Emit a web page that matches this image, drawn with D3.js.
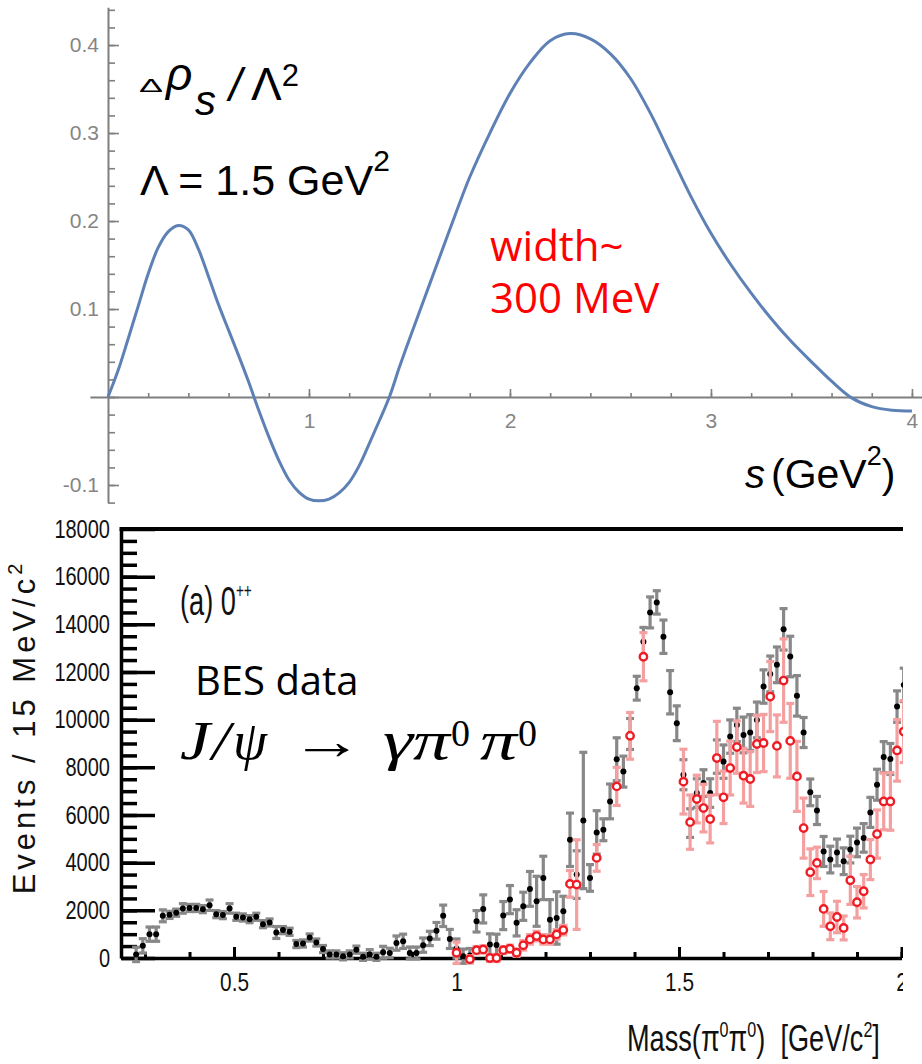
<!DOCTYPE html>
<html><head><meta charset="utf-8">
<script src="https://cdn.jsdelivr.net/npm/d3@7"></script>
<style>body{margin:0;background:#fff}svg{display:block}</style>
</head><body>
<script>
// ---------- Top panel: spectral density curve ----------
const curveS = [0,0.05,0.1,0.15,0.2,0.25,0.3,0.35,0.4,0.45,0.5,0.55,0.6,0.65,0.7,0.75,0.8,0.85,0.9,0.95,1.0,1.05,1.1,1.15,1.2,1.25,1.3,1.35,1.4,1.45,1.5,1.6,1.7,1.8,1.9,2.0,2.1,2.2,2.3,2.4,2.5,2.6,2.7,2.8,2.9,3.0,3.1,3.2,3.3,3.4,3.5,3.6,3.7,3.8,3.9,4.0];
const curveV = [0,0.03,0.066,0.103,0.14,0.17,0.188,0.195,0.19,0.168,0.137,0.105,0.076,0.047,0.017,-0.015,-0.045,-0.072,-0.094,-0.108,-0.116,-0.118,-0.116,-0.109,-0.097,-0.078,-0.053,-0.027,0,0.034,0.066,0.128,0.19,0.25,0.30,0.345,0.38,0.405,0.413,0.407,0.39,0.362,0.322,0.275,0.228,0.186,0.150,0.118,0.089,0.063,0.040,0.018,-0.001,-0.011,-0.015,-0.016];
const topXTicks = [1,2,3,4];
const topYTicks = [-0.1,0.1,0.2,0.3,0.4];

// ---------- Bottom panel: BES J/psi -> gamma pi0 pi0 ----------
const blackMass = [0.280,0.295,0.310,0.325,0.340,0.355,0.370,0.385,0.400,0.415,
0.430,0.445,0.460,0.475,0.490,0.505,0.520,0.535,0.550,0.565,
0.580,0.595,0.610,0.625,0.640,0.655,0.670,0.685,0.700,0.715,
0.730,0.745,0.760,0.775,0.790,0.805,0.820,0.835,0.850,0.865,
0.880,0.895,0.910,0.925,0.940,0.955,0.970,0.985,1.000,1.015,
1.030,1.045,1.060,1.075,1.090,1.105,1.120,1.135,1.150,1.165,
1.180,1.195,1.210,1.225,1.240,1.255,1.270,1.285,1.300,1.315,
1.330,1.345,1.360,1.375,1.390,1.405,1.420,1.435,1.450,1.465,
1.480,1.495,1.510,1.525,1.540,1.555,1.570,1.585,1.600,1.615,
1.630,1.645,1.660,1.675,1.690,1.705,1.720,1.735,1.750,1.765,
1.780,1.795,1.810,1.825,1.840,1.855,1.870,1.885,1.900,1.915,
1.930,1.945,1.960,1.975,1.990,2.005];
const blackEvents = [150,510,1000,1000,1770,1810,1900,2080,2100,2100,
2050,2215,1840,1800,2080,1730,1700,1630,1730,1420,
1490,1070,1170,1100,585,610,860,650,375,150,
150,70,150,350,50,150,50,240,210,625,
700,210,210,540,820,1140,1770,800,400,75,
100,1540,2060,565,550,1780,2450,1475,2170,2900,
2380,3360,1610,1680,1960,4960,3500,5770,3360,5270,
5380,6570,8340,7820,9400,11320,13270,14500,14920,13480,
11150,9850,7690,5660,6920,7340,6920,8450,8240,9290,
9780,9360,9460,9990,11390,11920,12300,13790,12650,11000,
9460,6950,6190,4470,4130,4430,4060,4550,4850,5040,
6110,7270,8430,8350,10550,11460];
const blackErr = [300,300,300,300,250,150,150,200,150,150,
150,220,150,150,200,150,150,150,150,150,
150,250,150,150,150,150,150,150,150,150,
150,150,150,150,150,200,150,250,200,300,
300,250,250,300,300,350,450,400,400,300,
300,450,590,450,450,590,590,550,590,730,
1050,910,840,1100,630,1120,1000,2860,560,910,
460,730,900,650,650,500,600,650,490,700,
910,730,630,600,600,560,600,700,700,700,
700,750,750,750,700,750,750,870,850,850,
630,560,590,630,560,560,560,560,600,600,
630,650,650,650,660,700];

const redMass = [1.000,1.030,1.045,1.060,1.075,1.090,1.105,1.120,1.135,1.150,
1.165,1.180,1.195,1.210,1.225,1.240,1.255,1.270,1.315,1.360,
1.390,1.420,1.510,1.525,1.540,1.555,1.570,1.585,1.600,1.615,
1.630,1.645,1.660,1.675,1.690,1.705,1.720,1.735,1.750,1.765,
1.780,1.795,1.810,1.825,1.840,1.855,1.870,1.885,1.900,1.915,
1.930,1.945,1.960,1.975,1.990,2.005];
const redEvents = [220,-50,330,360,0,0,330,390,220,530,
780,920,780,780,990,1170,3110,3080,4200,7200,
9320,12640,7400,5700,6670,6290,5830,8390,6740,7970,
8850,7650,7510,8980,9020,10970,8900,11640,9110,7620,
5450,3600,3990,2060,1330,1720,1260,3260,2340,2800,
4130,5200,6570,6570,8710,9500];
const redErr = [450,150,150,150,150,150,150,150,150,200,
200,200,200,200,200,200,560,1880,560,800,
980,1010,1360,1140,1000,1000,1000,1540,1100,1130,
1100,1150,1150,1200,1200,1470,1300,1750,1570,1470,
1260,980,660,730,560,660,500,1010,660,700,
840,1010,1190,1210,1290,1300];
const botYTicks = [0,2000,4000,6000,8000,10000,12000,14000,16000,18000];
const botXTicks = [0.5,1,1.5,2];

// =====================================================
const W = 922, H = 1064;
const svg = d3.select('body').append('svg').attr('width', W).attr('height', H);
svg.append('rect').attr('width', W).attr('height', H).attr('fill', '#fff');

const SANS = "'Liberation Sans', Arial, Helvetica, sans-serif";
const SERIF = "'Liberation Serif', 'Times New Roman', 'DejaVu Serif', serif";
const CAL = "'Open Sans', 'Noto Sans', sans-serif";

function narrow(sel, f) {
  sel.each(function () {
    const L = this.getComputedTextLength();
    d3.select(this).attr('textLength', L * f).attr('lengthAdjust', 'spacingAndGlyphs');
  });
}

// ---------------- TOP PANEL ----------------
const xT = d3.scaleLinear().domain([-0.09, 4.05]).range([89.9, 922]);
const yT = d3.scaleLinear().domain([-0.12, 0.443]).range([502.6, 7.2]);
const grey = '#7f7f7f';
const gT = svg.append('g');

function styleAxis(g, color, dw, tw) {
  g.select('.domain').attr('stroke', color).attr('stroke-width', dw);
  g.selectAll('.tick line').attr('stroke', color).attr('stroke-width', tw);
}
gT.append('g').attr('transform', `translate(0,${yT(0)})`)
  .call(d3.axisBottom(xT).tickValues(d3.range(0, 21).map(i => i * 0.2)).tickSizeInner(-4).tickSizeOuter(0).tickFormat(''))
  .call(g => styleAxis(g, grey, 2, 1.6));
gT.append('g').attr('transform', `translate(0,${yT(0)})`)
  .call(d3.axisBottom(xT).tickValues(topXTicks).tickSizeInner(-8).tickSizeOuter(0).tickPadding(16).tickFormat(d3.format('d')))
  .call(g => { g.select('.domain').remove(); styleAxis(g, grey, 2, 1.6);
    g.selectAll('text').attr('fill', '#858585').attr('font-size', 21).attr('font-family', SANS); });
gT.append('g').attr('transform', `translate(${xT(0)},0)`)
  .call(d3.axisRight(yT).tickValues(d3.range(-6, 23).map(i => i * 0.02)).tickSizeInner(7).tickSizeOuter(0).tickFormat(''))
  .call(g => styleAxis(g, grey, 2, 1.6));
gT.append('g').attr('transform', `translate(${xT(0)},0)`)
  .call(d3.axisRight(yT).tickValues([-0.1, 0, 0.1, 0.2, 0.3, 0.4]).tickSizeInner(11).tickSizeOuter(0).tickFormat(''))
  .call(g => { g.select('.domain').remove(); styleAxis(g, grey, 2, 1.6); });
gT.append('g').attr('transform', `translate(${xT(0)},0)`)
  .call(d3.axisLeft(yT).tickValues(topYTicks).tickSize(0).tickPadding(9).tickFormat(d => d < 0 ? '-' + Math.abs(d).toFixed(1) : d.toFixed(1)))
  .call(g => { g.select('.domain').remove();
    g.selectAll('text').attr('fill', '#858585').attr('font-size', 21).attr('font-family', SANS); });

const curveData = curveS.map((s, i) => ({ s, v: curveV[i] }));
gT.append('path').datum(curveData)
  .attr('fill', 'none').attr('stroke', '#5e81b5').attr('stroke-width', 3)
  .attr('d', d3.line().x(d => xT(d.s)).y(d => yT(d.v)).curve(d3.curveCatmullRom.alpha(0.5)));

function txt(g, x, y, s, size, fam, opts = {}) {
  const t = g.append('text').attr('x', x).attr('y', y).text(s)
    .attr('font-size', size).attr('font-family', fam).attr('fill', opts.fill || '#000');
  if (opts.italic) t.attr('font-style', 'italic');
  if (opts.anchor) t.attr('text-anchor', opts.anchor);
  if (opts.len) t.attr('textLength', opts.len).attr('lengthAdjust', 'spacingAndGlyphs');
  return t;
}
txt(gT, 139, 92, 'Δ', 19, SANS, { len: 24 });
txt(gT, 166, 90, 'ρ', 46, SANS, { italic: true });
txt(gT, 195, 115, 's', 42, SANS, { italic: true });
txt(gT, 229, 101, '/', 46, SANS, { italic: true });
const lam = txt(gT, 251, 100, 'Λ', 46, SANS);
lam.append('tspan').attr('dy', -14).attr('font-size', 31).text('2');
const lt = txt(gT, 140, 195, 'Λ = 1.5 GeV', 43, SANS);
lt.append('tspan').attr('dy', -24).attr('font-size', 30).text('2');
txt(gT, 490, 261, 'width~', 42, CAL, { fill: '#ff0000' });
txt(gT, 490, 313, '300 MeV', 42, CAL, { fill: '#ff0000' });
txt(gT, 745, 488, 's', 40, SANS, { italic: true });
const sl = txt(gT, 771, 488, '(GeV', 41, SANS);
sl.append('tspan').attr('dy', -23).attr('font-size', 27).text('2');
sl.append('tspan').attr('dy', 23).text(')');

// ---------------- BOTTOM PANEL ----------------
const xB = d3.scaleLinear().domain([0.246, 2.0]).range([121, 901.5]);
const yB = d3.scaleLinear().domain([0, 18000]).range([958, 529]);

svg.append('defs').append('clipPath').attr('id', 'clipB')
  .append('rect').attr('x', 0).attr('y', 505).attr('width', 903).attr('height', 559);
const gB = svg.append('g').attr('clip-path', 'url(#clipB)');

gB.append('g').attr('transform', `translate(${xB(0.246)},0)`)
  .call(d3.axisRight(yB).tickValues(d3.range(500, 18000, 500)).tickSizeInner(16).tickSizeOuter(0).tickFormat(''))
  .call(g => styleAxis(g, '#000', 3.5, 3.5));
gB.append('g').attr('transform', `translate(${xB(0.246)},0)`)
  .call(d3.axisRight(yB).tickValues(botYTicks).tickSizeInner(34).tickSizeOuter(0).tickFormat(''))
  .call(g => { g.select('.domain').remove(); styleAxis(g, '#000', 3.5, 3.5); });
gB.append('g').attr('transform', `translate(${xB(0.246)},0)`)
  .call(d3.axisLeft(yB).tickValues(botYTicks).tickSize(0).tickPadding(11).tickFormat(d3.format('d')))
  .call(g => { g.select('.domain').remove();
    g.selectAll('text').attr('fill', '#111').attr('font-size', 25).attr('font-family', SANS);
    narrow(g.selectAll('text'), 0.8); });
gB.append('g').attr('transform', `translate(0,${yB(0)})`)
  .call(d3.axisBottom(xB).tickValues(d3.range(3, 21).map(i => i / 10)).tickSizeInner(-6).tickSizeOuter(0).tickFormat(''))
  .call(g => styleAxis(g, '#000', 3.5, 3));
gB.append('g').attr('transform', `translate(0,${yB(0)})`)
  .call(d3.axisBottom(xB).tickValues(botXTicks).tickSizeInner(-11).tickSizeOuter(0).tickPadding(15).tickFormat(d => String(d)))
  .call(g => { g.select('.domain').remove(); styleAxis(g, '#000', 3.5, 3);
    g.selectAll('text').attr('fill', '#111').attr('font-size', 26).attr('font-family', SANS);
    narrow(g.selectAll('text'), 0.8); });
gB.append('line').attr('x1', xB(0.246) - 1.5).attr('x2', xB(2.0) + 3)
  .attr('y1', yB(18000)).attr('y2', yB(18000)).attr('stroke', '#000').attr('stroke-width', 4);

const blackData = blackMass.map((m, i) => ({ m, v: blackEvents[i], e: blackErr[i] }));
const redData = redMass.map((m, i) => ({ m, v: redEvents[i], e: redErr[i] }));

function errBars(g, data, color, w, cap) {
  const eb = g.append('g').attr('stroke', color).attr('stroke-width', w);
  eb.selectAll('line.v').data(data).join('line').attr('class', 'v')
    .attr('x1', d => xB(d.m)).attr('x2', d => xB(d.m))
    .attr('y1', d => yB(d.v - d.e)).attr('y2', d => yB(d.v + d.e));
  eb.selectAll('line.t').data(data).join('line').attr('class', 't')
    .attr('x1', d => xB(d.m) - cap).attr('x2', d => xB(d.m) + cap)
    .attr('y1', d => yB(d.v + d.e)).attr('y2', d => yB(d.v + d.e));
  eb.selectAll('line.b').data(data).join('line').attr('class', 'b')
    .attr('x1', d => xB(d.m) - cap).attr('x2', d => xB(d.m) + cap)
    .attr('y1', d => yB(d.v - d.e)).attr('y2', d => yB(d.v - d.e));
}
errBars(gB, blackData, '#888888', 3.2, 4);
gB.append('g').selectAll('circle').data(blackData).join('circle')
  .attr('cx', d => xB(d.m)).attr('cy', d => yB(d.v)).attr('r', 3).attr('fill', '#000');
errBars(gB, redData, '#f5a0a0', 3.2, 4);
gB.append('g').selectAll('circle').data(redData).join('circle')
  .attr('cx', d => xB(d.m)).attr('cy', d => yB(d.v)).attr('r', 3.7)
  .attr('fill', '#fff').attr('stroke', '#ee1c25').attr('stroke-width', 2.4);

// bottom annotations
const ga = svg.append('g').attr('transform', 'translate(180,615) scale(0.68,1)');
const at = ga.append('text').attr('font-family', SANS).attr('font-size', 40).attr('fill', '#111').text('(a) 0');
at.append('tspan').attr('dy', -17).attr('font-size', 20).text('++');
txt(svg, 195, 695, 'BES data', 40, CAL);
// J/psi -> gamma pi0 pi0
txt(svg, 180, 759, 'J', 54, SERIF, { italic: true, len: 30 });
txt(svg, 212, 759, '/', 54, SERIF, { italic: true, len: 18 });
txt(svg, 233, 759, 'ψ', 54, SERIF, { italic: true, len: 34 });
txt(svg, 290, 759, '→', 52, SERIF, { len: 73 });
txt(svg, 383, 759, 'γ', 54, SERIF, { italic: true, len: 30 });
txt(svg, 413, 759, 'π', 54, SERIF, { italic: true, len: 37 });
txt(svg, 451, 746, '0', 38, SERIF);
txt(svg, 480, 759, 'π', 54, SERIF, { italic: true, len: 37 });
txt(svg, 518, 746, '0', 38, SERIF);

// y title
const yt = svg.append('text').attr('transform', 'translate(35,727) rotate(-90)')
  .attr('text-anchor', 'middle').attr('font-family', SANS).attr('font-size', 31)
  .attr('letter-spacing', 4).attr('fill', '#111').text('Events / 15 MeV/c');
yt.append('tspan').attr('dy', -13).attr('font-size', 20).text('2');

// x title (condensed via horizontal scale)
const gx = svg.append('g');
const xt = gx.append('text').attr('x', 0).attr('y', 0)
  .attr('font-family', SANS).attr('font-size', 37).attr('fill', '#111').style('white-space', 'pre');
xt.append('tspan').text('Mass(π');
xt.append('tspan').attr('dy', -14).attr('font-size', 22).text('0');
xt.append('tspan').attr('dy', 14).text('π');
xt.append('tspan').attr('dy', -14).attr('font-size', 22).text('0');
xt.append('tspan').attr('dy', 14).text(')  [GeV/c');
xt.append('tspan').attr('dy', -14).attr('font-size', 22).text('2');
xt.append('tspan').attr('dy', 14).text(']');
const xtLen = xt.node().getComputedTextLength();
gx.attr('transform', `translate(627,1051) scale(${253 / xtLen},1)`);
</script>
</body></html>
